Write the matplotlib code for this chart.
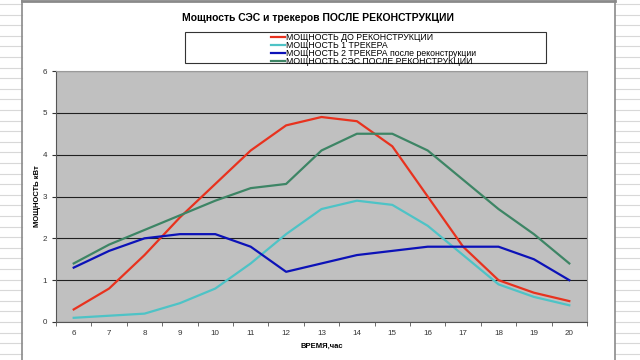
import matplotlib.pyplot as plt
import matplotlib.ticker as tck
from matplotlib.patches import Rectangle
from matplotlib.lines import Line2D

plt.rcParams['font.family'] = ['Liberation Sans', 'DejaVu Sans']

# data
hours = [6, 7, 8, 9, 10, 11, 12, 13, 14, 15, 16, 17, 18, 19, 20]
before = [0.3, 0.8, 1.6, 2.5, 3.3, 4.1, 4.7, 4.9, 4.8, 4.2, 3.0, 1.8, 1.0, 0.7, 0.5]
tracker1 = [0.1, 0.15, 0.2, 0.45, 0.8, 1.4, 2.1, 2.7, 2.9, 2.8, 2.3, 1.6, 0.9, 0.6, 0.4]
tracker2 = [1.3, 1.7, 2.0, 2.1, 2.1, 1.8, 1.2, 1.4, 1.6, 1.7, 1.8, 1.8, 1.8, 1.5, 1.0]
ses_after = [1.4, 1.85, 2.2, 2.55, 2.9, 3.2, 3.3, 4.1, 4.5, 4.5, 4.1, 3.4, 2.7, 2.1, 1.4]
labels = ['МОЩНОСТЬ ДО РЕКОНСТРУКЦИИ',
          'МОЩНОСТЬ 1 ТРЕКЕРА',
          'МОЩНОСТЬ 2 ТРЕКЕРА после реконструкции',
          'МОЩНОСТЬ СЭС ПОСЛЕ РЕКОНСТРУКЦИИ']
colors = ['#e8321e', '#4ec3c6', '#0c12b8', '#3d8565']

fig = plt.figure(figsize=(6.4, 3.6), dpi=100)
W, H = 640.0, 360.0

# spreadsheet strips at the sides of the screenshot
########################################################################
for x0, x1 in [(0, 22), (615, 640)]:
    y = 4
    while y < H:
        fig.add_artist(Line2D([x0 / W, x1 / W], [1 - y / H, 1 - y / H],
                              color='#d8d8d8', lw=0.8))
        y += 10.6
fig.add_artist(Line2D([22 / W, 22 / W], [0, 1], color='#8a8a8a', lw=1.2))
fig.add_artist(Line2D([615 / W, 615 / W], [0, 1], color='#8a8a8a', lw=1.2))
fig.add_artist(Line2D([22 / W, 615 / W], [1 - 1 / H, 1 - 1 / H], color='#8a8a8a', lw=2))

# plot area
########################################################################
ax = fig.add_axes([56 / W, 1 - 322 / H, (587 - 56) / W, (322 - 71) / H])
ax.set_facecolor('#c0c0c0')
for y, c, lab in zip([before, tracker1, tracker2, ses_after], colors, labels):
    ax.plot(hours, y, color=c, lw=1.6, label=lab)

ax.set_xlim(5.5, 20.5)
ax.set_ylim(0, 6)
ax.yaxis.set_major_locator(tck.MultipleLocator(1))
ax.grid(axis='y', color='#202020', lw=0.8)
ax.set_axisbelow(True)

ax.set_xticks(hours)
ax.xaxis.set_minor_locator(tck.FixedLocator([h + 0.5 for h in hours[:-1]] + [5.5, 20.5]))
ax.tick_params(axis='x', which='major', length=0, labelsize=5.8, pad=6, colors='#333333')
ax.tick_params(axis='x', which='minor', length=3, color='#555555')
ax.tick_params(axis='y', length=3, labelsize=5.8, colors='#333333')

for s in ['left', 'bottom']:
    ax.spines[s].set_color('#555555')
for s in ['top', 'right']:
    ax.spines[s].set_color('#9a9a9a')

ax.set_xlabel('ВРЕМЯ,час', fontsize=5.5, fontweight='bold', labelpad=4)
ax.set_ylabel('МОЩНОСТЬ кВт', fontsize=5.5, fontweight='bold', labelpad=1)

# title and legend
########################################################################
fig.text(318 / W, 1 - 18 / H, 'Мощность СЭС и трекеров ПОСЛЕ РЕКОНСТРУКЦИИ',
         ha='center', va='center', fontsize=7.5, fontweight='bold')

fig.add_artist(Rectangle((185 / W, 1 - 63 / H), (546 - 185) / W, 31 / H,
                         transform=fig.transFigure, fill=False, ec='#333333', lw=0.8))
fig.legend(loc='upper left', bbox_to_anchor=(265 / W, 1 - 27 / H), frameon=False,
           fontsize=6.3, handlelength=1.6, handletextpad=0.15, labelspacing=-0.12,
           borderpad=0.2)

fig.savefig('out.png', dpi=100)
